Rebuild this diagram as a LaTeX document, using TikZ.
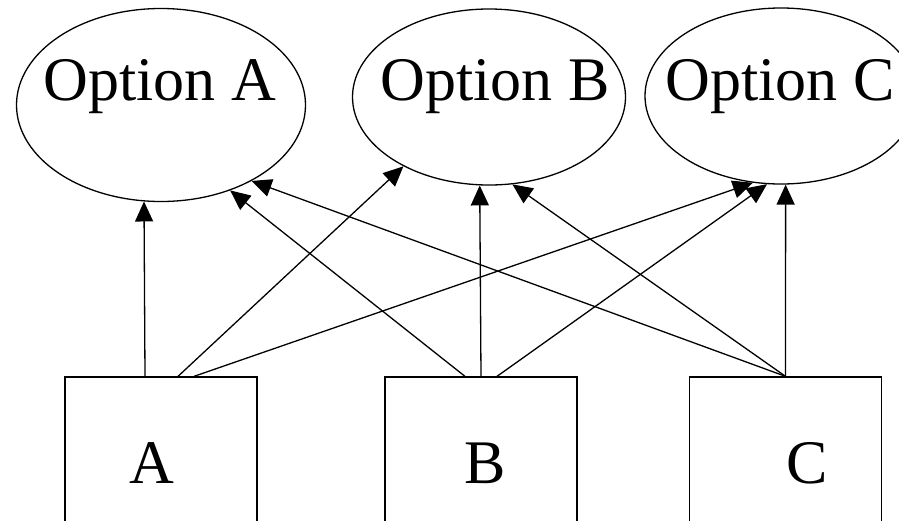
\documentclass[tikz,border=0pt]{standalone}
\usepackage{fontspec}
\setmainfont{Liberation Serif}
\usetikzlibrary{shapes.geometric,arrows.meta}
\begin{document}
\begin{tikzpicture}[x=1pt,y=-1pt,
  ell/.style={draw,ellipse,line width=1.3pt,inner sep=0pt},
  boxnode/.style={draw,rectangle,line width=1.3pt,inner sep=0pt,minimum width=192pt,minimum height=180pt},
  lbl/.style={inner sep=0pt,anchor=base,font=\fontsize{62}{70}\selectfont},
  arr/.style={line width=1.3pt,-{Triangle[length=20pt,width=18pt]}}]
\clip (0,0) rectangle (899,520);
\fill[white] (0,0) rectangle (899,520);
% ellipses
\node[ell,minimum width=289pt,minimum height=193pt] (oa) at (161,105) {};
\node[ell,minimum width=273pt,minimum height=176pt] (ob) at (489,97) {};
\node[ell,minimum width=272pt,minimum height=176pt] (oc) at (781,96) {};
\node[lbl] (oat) at (160,100) {Option A};
\node[lbl] (obt) at (495,100) {Option B};
\node[lbl] (oct) at (780,100) {Option C};
% boxes
\node[boxnode] (ba) at (161,467) {};
\node[boxnode] (bb) at (481,467) {};
\node[boxnode] (bc) at (785.5,467) {};
\node[lbl] (bat) at (152,483) {A};
\node[lbl] (bbt) at (485,483) {B};
\node[lbl] (bct) at (807,483) {C};
% connectors from A
\draw[arr] ([xshift=-16pt]ba.north) -- (oa.260.6);
\draw[arr] ([xshift=17pt]ba.north) -- (ob.219.3);
\draw[arr] ([xshift=33pt]ba.north) -- (oc.252.2);
% connectors from B
\draw[arr] ([xshift=-16pt]bb.north) -- (oa.309);
\draw[arr] (bb.north) -- (ob.264.8);
\draw[arr] ([xshift=16pt]bb.north) -- (oc.261.6);
% connectors from C
\draw[arr] (bc.north) -- (oa.320.5);
\draw[arr] (bc.north) -- (ob.285.9);
\draw[arr] (bc.north) -- (oc.273.2);
\end{tikzpicture}
\end{document}
